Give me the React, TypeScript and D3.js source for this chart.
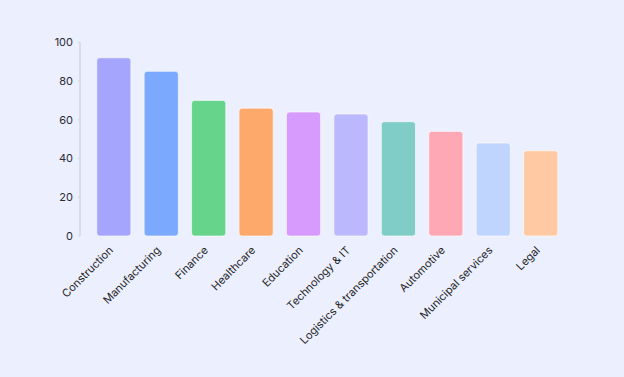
import React from "react";
import * as d3 from "d3";

const categories = [
  "Construction",
  "Manufacturing",
  "Finance",
  "Healthcare",
  "Education",
  "Technology & IT",
  "Logistics & transportation",
  "Automotive",
  "Municipal services",
  "Legal",
];
const values = [92, 85, 70, 66, 64, 63, 59, 54, 48, 44];
const colors = [
  "#a5a5fd",
  "#7ba9fd",
  "#66d48a",
  "#fea96c",
  "#d69bfd",
  "#bbb8fd",
  "#80cdc8",
  "#fea8b5",
  "#bfd5fd",
  "#fec9a3",
];
const yTicks = [0, 20, 40, 60, 80, 100];

const W = 624;
const H = 377;

export default function App() {
  const x = d3
    .scaleBand<string>()
    .domain(categories)
    .range([82.5, 572])
    .paddingInner(0.28)
    .paddingOuter(0.3);
  const y = d3.scaleLinear().domain([0, 100]).range([236, 42.3]);
  const font = "Inter, 'Open Sans', sans-serif";

  return (
    <svg
      width={W}
      height={H}
      style={{ position: "absolute", left: 0, top: 0, display: "block" }}
    >
      <rect x={0} y={0} width={W} height={H} fill="#eceffe" />
      <line x1={80} x2={80} y1={y(100)} y2={y(0)} stroke="#d3d6e4" strokeWidth={1.5} />
      {yTicks.map((t) => (
        <g key={t}>
          <line x1={78} x2={80} y1={y(t)} y2={y(t)} stroke="#d3d6e4" strokeWidth={1} />
          <text
            x={73}
            y={y(t)}
            dy="0.35em"
            textAnchor="end"
            fontSize={11}
            fontFamily={font}
            fill="#2b2b33"
          >
            {t}
          </text>
        </g>
      ))}
      {categories.map((c, i) => (
        <rect
          key={c}
          x={x(c)!}
          y={y(values[i])}
          width={x.bandwidth()}
          height={y(0) - y(values[i])}
          rx={3}
          fill={colors[i]}
          stroke="#ffffff"
          strokeOpacity={0.6}
          strokeWidth={1}
        />
      ))}
      {categories.map((c) => {
        const cx = x(c)! + x.bandwidth() / 2;
        const cy = 251;
        return (
          <text
            key={c}
            transform={`translate(${cx},${cy}) rotate(-45)`}
            textAnchor="end"
            fontSize={11}
            fontFamily={font}
            fill="#1f1f26"
          >
            {c}
          </text>
        );
      })}
    </svg>
  );
}
